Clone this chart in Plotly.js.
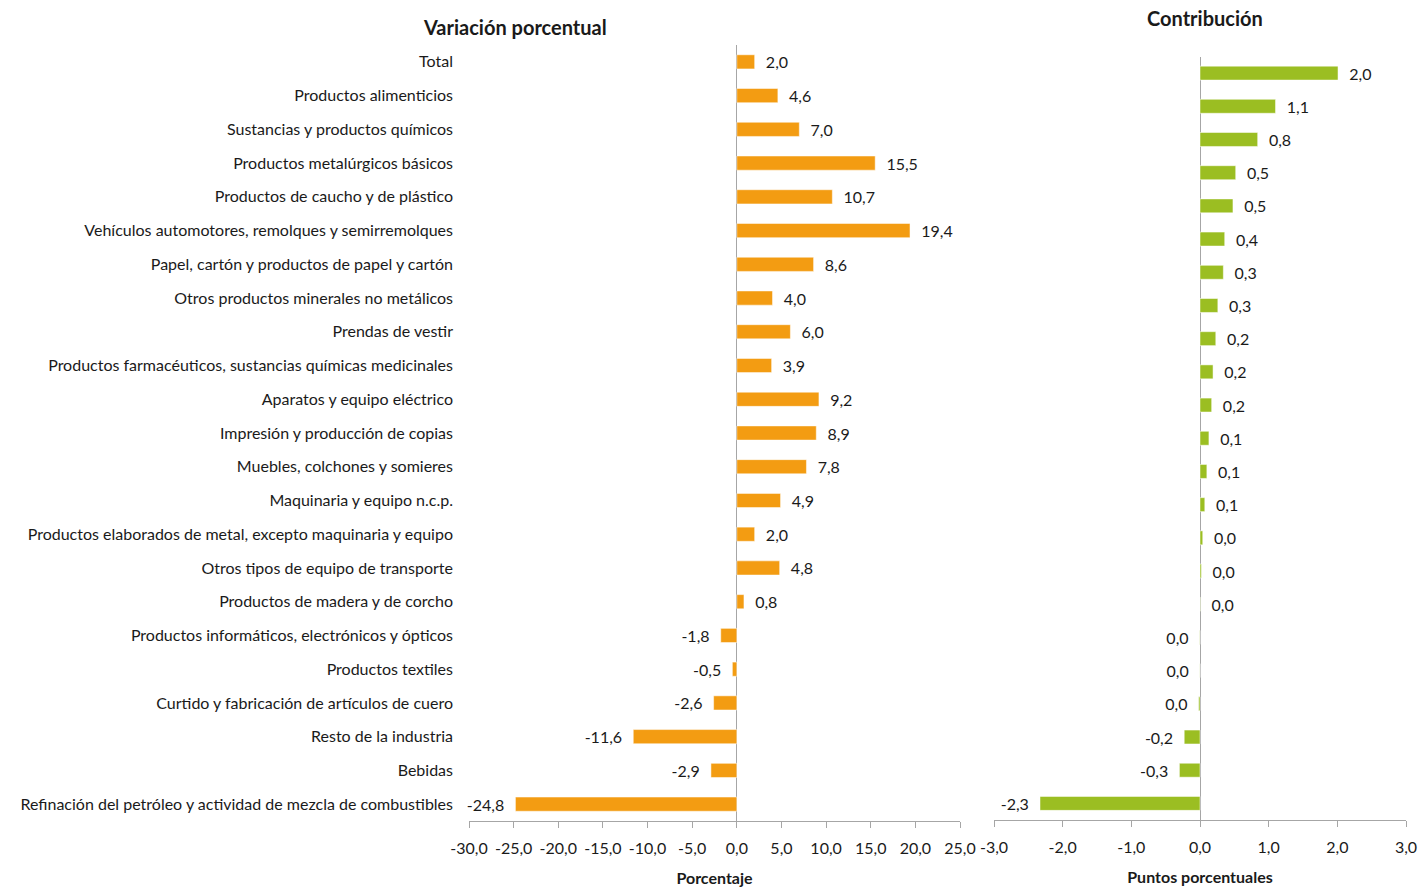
<!DOCTYPE html>
<html><head><meta charset="utf-8">
<script src="https://cdn.plot.ly/plotly-3.0.1.min.js"></script>
<style>html,body{margin:0;padding:0;background:#fff}#chart{width:1420px;height:888px}</style>
</head><body><div id="chart"></div>
<script>
const categories = [
  "Total",
  "Productos alimenticios",
  "Sustancias y productos químicos",
  "Productos metalúrgicos básicos",
  "Productos de caucho y de plástico",
  "Vehículos automotores, remolques y semirremolques",
  "Papel, cartón y productos de papel y cartón",
  "Otros productos minerales no metálicos",
  "Prendas de vestir",
  "Productos farmacéuticos, sustancias químicas medicinales",
  "Aparatos y equipo eléctrico",
  "Impresión y producción de copias",
  "Muebles, colchones y somieres",
  "Maquinaria y equipo n.c.p.",
  "Productos elaborados de metal, excepto maquinaria y equipo",
  "Otros tipos de equipo de transporte",
  "Productos de madera y de corcho",
  "Productos informáticos, electrónicos y ópticos",
  "Productos textiles",
  "Curtido y fabricación de artículos de cuero",
  "Resto de la industria",
  "Bebidas",
  "Refinación del petróleo y actividad de mezcla de combustibles"
];
const variation = [2.0, 4.6, 7.0, 15.5, 10.7, 19.4, 8.6, 4.0, 6.0, 3.9, 9.2, 8.9, 7.8, 4.9, 2.0, 4.8, 0.8, -1.8, -0.5, -2.6, -11.6, -2.9, -24.8];
const contribution = [2.01, 1.10, 0.84, 0.52, 0.48, 0.36, 0.34, 0.26, 0.23, 0.19, 0.17, 0.13, 0.10, 0.07, 0.04, 0.02, 0.004, -0.004, -0.002, -0.02, -0.23, -0.30, -2.33];
const leftTicks = [-30, -25, -20, -15, -10, -5, 0, 5, 10, 15, 20, 25];
const rightTicks = [-3, -2, -1, 0, 1, 2, 3];

const W = 1420, H = 888;
function fmt(v) {
  let s = v.toFixed(1);
  if (parseFloat(s) === 0) s = "0.0";
  return s.replace(".", ",");
}
function pad(v) {
  const s = fmt(v);
  return v < 0 ? s + "\u00a0\u00a0" : "\u00a0\u00a0" + s;
}
const font = "Lato, 'Open Sans', sans-serif";
const txt = "#1a1a1a";
const axisGray = "#a6a6a6";

const traces = [
  {
    type: "bar", orientation: "h",
    x: variation, y: categories,
    xaxis: "x", yaxis: "y",
    marker: {color: "#F39C12", line: {color: "#ffffff", width: 0.5}},
    text: variation.map(pad), textposition: "outside", cliponaxis: false,
    constraintext: "none",
    textfont: {family: font, size: 16, color: txt},
    hoverinfo: "x+y"
  },
  {
    type: "bar", orientation: "h",
    x: contribution, y: categories,
    xaxis: "x2", yaxis: "y2",
    marker: {color: "#9BBE22", line: {color: "#ffffff", width: 0.5}},
    text: contribution.map(pad), textposition: "outside", cliponaxis: false,
    constraintext: "none",
    textfont: {family: font, size: 16, color: txt},
    hoverinfo: "x+y"
  }
];

const xCommon = {
  showgrid: false, zeroline: true, zerolinecolor: axisGray, zerolinewidth: 1,
  showline: true, linecolor: axisGray, linewidth: 1,
  ticks: "outside", ticklen: 6, tickcolor: axisGray, tickwidth: 1,
  tickmode: "array", ticklabelstandoff: 7,
  tickfont: {family: font, size: 16, color: txt},
  fixedrange: true
};

const layout = {
  width: W, height: H,
  margin: {l: 0, r: 0, t: 0, b: 0},
  paper_bgcolor: "#fff", plot_bgcolor: "#fff",
  separators: ",.",
  showlegend: false,
  bargap: 0.58,
  font: {family: font, color: txt},
  xaxis: Object.assign({}, xCommon, {
    domain: [469 / W, 960 / W], range: [-30, 25],
    tickvals: leftTicks, ticktext: leftTicks.map(fmt),
    anchor: "y",
    title: {text: "Porcentaje", font: {family: font, size: 16, color: txt, weight: "bold"}, standoff: 16}
  }),
  yaxis: {
    domain: [1 - 821 / H, 1 - 45 / H], autorange: "reversed",
    anchor: "x", showgrid: false, zeroline: false, showline: false, ticks: "",
    ticklabelstandoff: 15,
    tickfont: {family: font, size: 16, color: txt},
    fixedrange: true
  },
  xaxis2: Object.assign({}, xCommon, {
    domain: [994 / W, 1406 / W], range: [-3, 3],
    tickvals: rightTicks, ticktext: rightTicks.map(fmt),
    anchor: "y2",
    title: {text: "Puntos porcentuales", font: {family: font, size: 16, color: txt, weight: "bold"}, standoff: 16}
  }),
  yaxis2: {
    domain: [1 - 820 / H, 1 - 56.5 / H], autorange: "reversed",
    anchor: "x2", showgrid: false, zeroline: false, showline: false, ticks: "",
    showticklabels: false, fixedrange: true
  },
  annotations: [
    {text: "Variación porcentual", xref: "paper", yref: "paper", x: 515 / W, y: 1 - 27 / H,
     xanchor: "center", yanchor: "middle", showarrow: false,
     font: {family: font, size: 20, color: txt, weight: "bold"}},
    {text: "Contribución", xref: "paper", yref: "paper", x: 1205 / W, y: 1 - 18 / H,
     xanchor: "center", yanchor: "middle", showarrow: false,
     font: {family: font, size: 20, color: txt, weight: "bold"}}
  ]
};

Plotly.newPlot("chart", traces, layout, {displayModeBar: false, staticPlot: true});
</script>
</body></html>
